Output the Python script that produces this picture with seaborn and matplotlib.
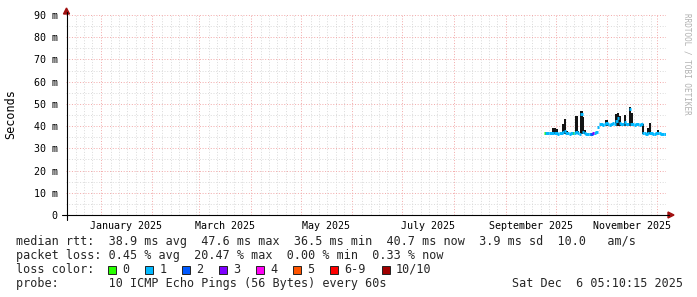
import numpy as np
import pandas as pd
import matplotlib
matplotlib.use("Agg")
import matplotlib.pyplot as plt
import matplotlib.dates as mdates
from matplotlib.patches import Rectangle, Polygon
from matplotlib.lines import Line2D
import seaborn as sns

# ---------------- data ----------------
start_day = "2025-09-24"          # first day with data (daily samples)
n_days = 73                        # Sep 24 .. Dec 5

median_ms = [
    # Sep 24-30
    36.7, 36.7, 36.8, 36.7, 36.8, 36.9, 36.8,
    # Oct 1-10
    36.7, 36.6, 36.7, 36.8, 37.2, 38.0, 36.9, 36.7, 36.6, 36.7,
    # Oct 11-20
    36.8, 36.7, 37.4, 36.8, 36.6, 45.5, 37.5, 36.9, 36.6, 36.5,
    # Oct 21-31
    36.6, 36.6, 36.7, 36.8, 37.3, 39.5, 40.8, 40.9, 40.7, 40.8, 41.2,
    # Nov 1-10
    40.9, 40.7, 40.8, 41.5, 40.8, 42.4, 43.6, 41.5, 40.8, 40.9,
    # Nov 11-20
    41.8, 41.0, 40.8, 47.6, 41.0, 40.9, 40.7, 40.8, 41.1, 40.7,
    # Nov 21-30
    40.8, 36.9, 36.7, 36.6, 36.8, 37.0, 36.7, 36.6, 36.6, 36.7,
    # Dec 1-5
    37.0, 36.8, 36.6, 36.6, 36.6,
]

N = None
smoke_hi_ms = [
    N, N, N, N, N, 39.0, 39.3,
    38.5, N, N, N, 41.0, 43.1, 37.8, N, N, N,
    N, N, 44.6, 37.9, N, 46.8, 44.0, 38.2, N, N,
    N, N, N, N, N, N, N, N, N, N, 42.6,
    N, N, N, N, N, 45.4, 45.7, 44.4, N, N,
    45.0, N, N, 48.8, 46.0, N, N, N, N, N,
    N, 41.0, N, N, 39.0, 41.5, N, N, N, N,
    38.2, N, N, N, N,
]
smoke_lo_ms = [
    N, N, N, N, N, 36.3, 36.3,
    36.3, N, N, N, 36.3, 36.3, 36.3, N, N, N,
    N, N, 36.3, 36.3, N, 36.3, 36.3, 36.3, N, N,
    N, N, N, N, N, N, N, N, N, N, 40.2,
    N, N, N, N, N, 40.2, 40.2, 40.2, N, N,
    40.2, N, N, 40.2, 40.2, N, N, N, N, N,
    N, 36.3, N, N, 36.3, 36.3, N, N, N, N,
    36.3, N, N, N, N,
]
loss_bin = [
    "0", "1", "1", "1", "1", "1", "1",
    "1", "1", "1", "1", "1", "1", "1", "1", "1", "1",
    "0", "1", "1", "1", "1", "1", "1", "1", "1", "1",
    "1", "2", "3", "1", "1", "1", "1", "1", "1", "1", "1",
    "1", "1", "1", "1", "1", "1", "1", "1", "1", "1",
    "1", "1", "1", "1", "1", "1", "1", "1", "1", "1",
    "1", "1", "1", "1", "1", "1", "1", "1", "1", "1",
    "1", "1", "1", "1", "1",
]

loss_labels = ["0", "1", "2", "3", "4", "5", "6-9", "10/10"]
loss_colors = ["#26ff00", "#00b8ff", "#0059ff", "#7e00ff",
               "#ff00f4", "#ff5500", "#ff0000", "#a10000"]

y_ticks = [0, 10, 20, 30, 40, 50, 60, 70, 80, 90]
y_tick_labels = ["0", "10 m", "20 m", "30 m", "40 m", "50 m", "60 m", "70 m", "80 m", "90 m"]
x_label_months = ["2025-01-01", "2025-03-01", "2025-05-01", "2025-07-01", "2025-09-01", "2025-11-01"]
x_label_next = ["2025-02-01", "2025-04-01", "2025-06-01", "2025-08-01", "2025-10-01", "2025-12-01"]
x_labels = ["January 2025", "March 2025", "May 2025", "July 2025", "September 2025", "November 2025"]

t_end = pd.Timestamp("2025-12-06 05:10:15")
t_start = t_end - pd.Timedelta(days=360)

legend_rows = [
    "median rtt:  38.9 ms avg  47.6 ms max  36.5 ms min  40.7 ms now  3.9 ms sd  10.0   am/s",
    "packet loss: 0.45 % avg  20.47 % max  0.00 % min  0.33 % now",
]
probe_text = "probe:       10 ICMP Echo Pings (56 Bytes) every 60s"
date_text = "Sat Dec  6 05:10:15 2025"

# ---------------- style ----------------
sns.set_style("white")
plt.rcParams["font.family"] = ["DejaVu Sans Mono"]

W, H = 697, 297
fig = plt.figure(figsize=(W / 100, H / 100), dpi=100)
fig.patch.set_facecolor("white")
ax_left, ax_right, ax_top, ax_bot = 66, 666, 15, 215
ax = fig.add_axes([ax_left / W, 1 - ax_bot / H, (ax_right - ax_left) / W, (ax_bot - ax_top) / H])
ax.set_facecolor("white")

days = pd.date_range(start_day, periods=n_days, freq="D")
dnum = mdates.date2num(days)

# smoke
hi = np.array([np.nan if v is None else v for v in smoke_hi_ms])
lo = np.array([np.nan if v is None else v for v in smoke_lo_ms])
m = ~np.isnan(hi)
ax.bar(dnum[m] - 0.2, hi[m] - lo[m], bottom=lo[m], width=1.4, align="edge",
       color="#141414", linewidth=0, zorder=2)

# median segments per day, colored by loss (slight overlap to avoid seams)
rows = []
for i, (d, v, lb) in enumerate(zip(dnum, median_ms, loss_bin)):
    rows.append({"t": d - 0.15, "ms": v, "loss": lb, "unit": i})
    rows.append({"t": d + 1.15, "ms": v, "loss": lb, "unit": i})
df = pd.DataFrame(rows)
palette = dict(zip(loss_labels, loss_colors))
sns.lineplot(data=df, x="t", y="ms", hue="loss", units="unit", estimator=None,
             palette=palette, legend=False, lw=2.1, sort=False, ax=ax,
             solid_capstyle="butt", zorder=3)

# axes limits / grid
ax.set_xlim(mdates.date2num(t_start), mdates.date2num(t_end))
ax.set_ylim(0, 90)
ax.xaxis.set_major_locator(mdates.MonthLocator(bymonthday=1))
ax.xaxis.set_minor_locator(mdates.DayLocator(bymonthday=[7, 12, 17, 22, 27]))
ax.xaxis.set_major_formatter(plt.NullFormatter())
ax.xaxis.set_minor_formatter(plt.NullFormatter())
ax.set_yticks(y_ticks)
ax.set_yticklabels(y_tick_labels)
ax.set_yticks([5, 15, 25, 35, 45, 55, 65, 75, 85], minor=True)
ax.tick_params(axis="both", which="both", length=0)
ax.tick_params(axis="y", which="major", pad=6, labelsize=7.2, colors="#000000")
ax.set_xlabel("")
ax.set_ylabel("")
ax.grid(which="minor", color="#dadada", lw=0.7, ls=(0, (1, 1.8)), zorder=0)
ax.grid(which="major", color="#f2a8a8", lw=0.7, ls=(0, (1, 1.8)), zorder=0)
ax.set_axisbelow(True)
for s in ax.spines.values():
    s.set_visible(False)

# month labels (centered mid-month)
for a, b, lab in zip(x_label_months, x_label_next, x_labels):
    xm = (mdates.date2num(pd.Timestamp(a)) + mdates.date2num(pd.Timestamp(b))) / 2
    ax.text(xm, -0.028, lab, transform=ax.get_xaxis_transform(), ha="center", va="top",
            fontsize=7.2, color="#000000", clip_on=False)

# axis lines with arrows (figure pixel coords)
def fx(px):
    return px / W

def fy(py):
    return 1 - py / H

fig.add_artist(Line2D([fx(62), fx(669)], [fy(215), fy(215)], color="#000000", lw=0.8))
fig.add_artist(Line2D([fx(66.5), fx(66.5)], [fy(220), fy(12)], color="#000000", lw=0.8))
arrow_c = "#a01010"
fig.add_artist(Polygon([[fx(668), fy(212)], [fx(668), fy(218)], [fx(674), fy(215)]],
                       closed=True, color=arrow_c, transform=fig.transFigure))
fig.add_artist(Polygon([[fx(63.5), fy(14)], [fx(69.5), fy(14)], [fx(66.5), fy(8)]],
                       closed=True, color=arrow_c, transform=fig.transFigure))

# y label
fig.text(fx(11), fy(114), "Seconds", rotation=90, ha="center", va="center",
         fontsize=8.5, color="#000000")

# watermark
fig.text(fx(687), fy(64), "RRDTOOL / TOBI OETIKER", rotation=-90, ha="center", va="center",
         fontsize=5.5, color="#b0b0b0")

# legend rows
fs = 8.5
x0 = 15.5
fig.text(fx(x0), fy(245), legend_rows[0], fontsize=fs, ha="left", va="baseline")
fig.text(fx(x0), fy(259), legend_rows[1], fontsize=fs, ha="left", va="baseline")
fig.text(fx(x0), fy(273), "loss color:", fontsize=fs, ha="left", va="baseline")
box_x = [108, 145, 182, 219, 256, 293, 330, 381.5]
for bx, lab, col in zip(box_x, loss_labels, loss_colors):
    fig.add_artist(Rectangle((fx(bx), fy(273.5)), 8 / W, 8 / H, transform=fig.transFigure,
                             facecolor=col, edgecolor="#222222", lw=0.7))
    fig.text(fx(bx + 14.3), fy(273), lab, fontsize=fs, ha="left", va="baseline")
fig.text(fx(x0), fy(287), probe_text, fontsize=fs, ha="left", va="baseline")
fig.text(fx(512.5), fy(287), date_text, fontsize=fs, ha="left", va="baseline")

fig.savefig("out.png", dpi=100, facecolor="white")
